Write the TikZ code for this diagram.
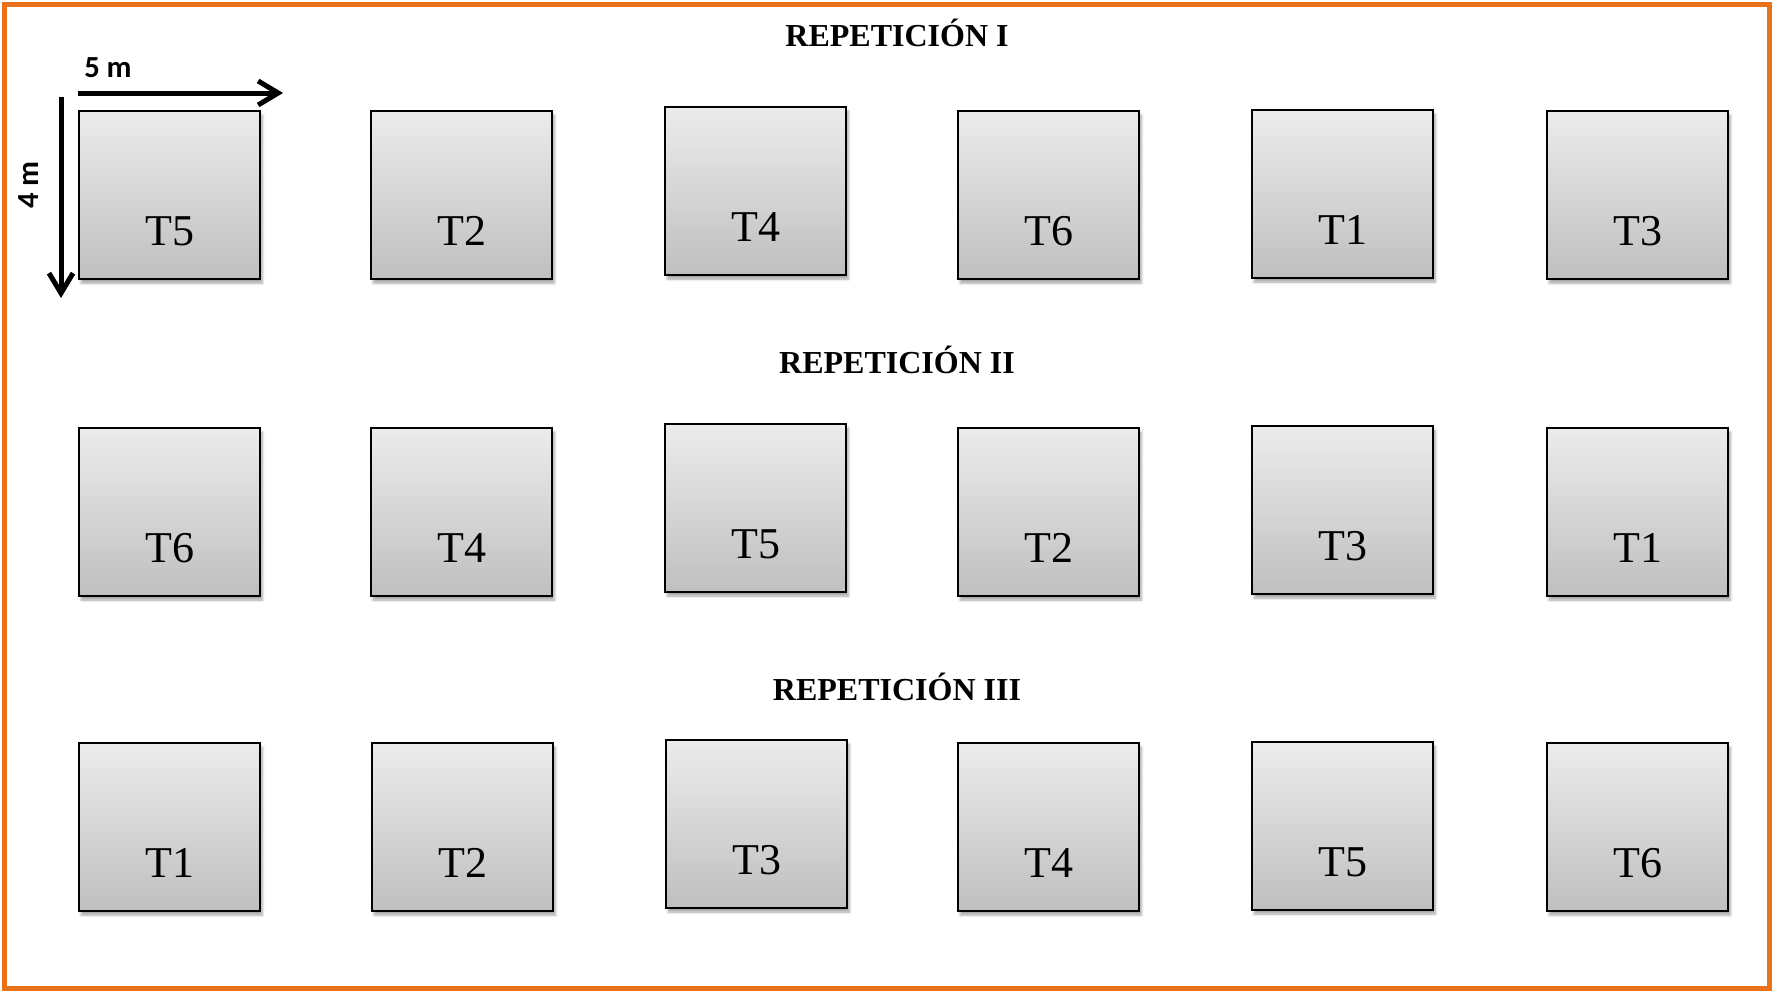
\documentclass[tikz,border=0pt]{standalone}
\usepackage{fontspec}
\setmainfont{Liberation Serif}
\newfontfamily\calib{Carlito}
\usetikzlibrary{arrows.meta,calc,shadows.blur}
\definecolor{frameorange}{RGB}{232,113,26}
\tikzset{
  plotbox/.style={draw=black, line width=1.6pt, top color=gray!15, bottom color=gray!50,
    minimum width=136pt, minimum height=126pt, inner sep=0pt,
    blur shadow={shadow xshift=1.5pt, shadow yshift=-3pt, shadow opacity=35, shadow blur steps=6}},
  plotlabel/.style={font=\fontsize{33}{38}\selectfont, inner sep=0pt},
  titletext/.style={font=\fontsize{24}{28}\selectfont\bfseries, inner sep=0pt, anchor=base},
  dimtext/.style={font=\calib\fontsize{23}{27}\selectfont\bfseries, inner sep=0pt, anchor=base},
  dimarrow/.style={line width=3.75pt, -{Straight Barb[length=15pt,width=18pt,line width=3.75pt]}}
}
\newcommand{\parcela}[4]{%
  \node[plotbox, anchor=north west] (#1) at (#2,#3) {};
  \node[plotlabel, anchor=base] (#1-t) at ($(#1.north)+(0,135)$) {#4};}
\begin{document}
\begin{tikzpicture}[x=0.75pt,y=-0.75pt]
\useasboundingbox (0,0) rectangle (1774,992);
\draw[frameorange, line width=3.75pt] (4.5,4.5) rectangle (1769.5,988);

\node[titletext] (t1) at (897,46) {REPETICIÓN I};
\node[titletext] (t2) at (897,373) {REPETICIÓN II};
\node[titletext] (t3) at (897,700) {REPETICIÓN III};

% row 1
\parcela{a1}{78}{110}{T5}
\parcela{a2}{370}{110}{T2}
\parcela{a3}{664}{106}{T4}
\parcela{a4}{957}{110}{T6}
\parcela{a5}{1251}{109}{T1}
\parcela{a6}{1546}{110}{T3}
% row 2
\parcela{b1}{78}{427}{T6}
\parcela{b2}{370}{427}{T4}
\parcela{b3}{664}{423}{T5}
\parcela{b4}{957}{427}{T2}
\parcela{b5}{1251}{425}{T3}
\parcela{b6}{1546}{427}{T1}
% row 3
\parcela{c1}{78}{742}{T1}
\parcela{c2}{371}{742}{T2}
\parcela{c3}{665}{739}{T3}
\parcela{c4}{957}{742}{T4}
\parcela{c5}{1251}{741}{T5}
\parcela{c6}{1546}{742}{T6}

% dimension arrows
\coordinate (hs) at (78,93);
\coordinate (he) at (283,93);
\coordinate (vs) at (61,97);
\coordinate (ve) at (61,298);
\draw[dimarrow] (hs) -- (he);
\draw[dimarrow] (vs) -- (ve);
\node[dimtext, anchor=base west] (l5) at (84,77) {5 m};
\node[dimtext, rotate=90] (l4) at (38,185) {4 m};
\end{tikzpicture}
\end{document}
